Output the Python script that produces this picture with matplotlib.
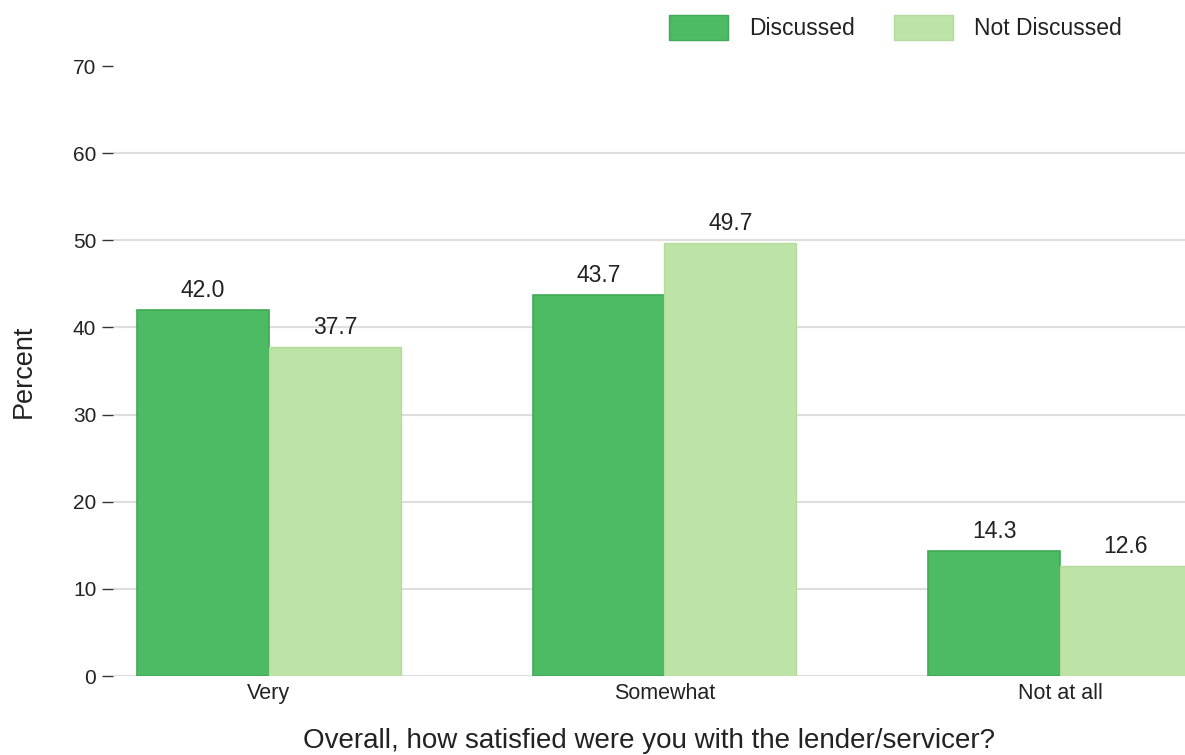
import matplotlib
matplotlib.use("Agg")
import matplotlib.pyplot as plt
from matplotlib.patches import Patch
import numpy as np

plt.rcParams['font.family'] = ['Liberation Sans', 'DejaVu Sans']

categories = ["Very", "Somewhat", "Not at all"]
discussed = [42.0, 43.7, 14.3]
not_discussed = [37.7, 49.7, 12.6]
series_names = ["Discussed", "Not Discussed"]
y_ticks = [0, 10, 20, 30, 40, 50, 60, 70]

dark = "#4dba64"
dark_edge = "#3fa956"
light = "#bde3a6"
light_edge = "#b3dc9c"
text_color = "#222222"

W, H = 1185, 755
fig = plt.figure(figsize=(W / 100, H / 100), dpi=100)
ax = fig.add_axes([113 / W, 1 - 676 / H, 1 - 113 / W, (676 - 66) / H])

x = np.arange(len(categories))
bw = 1 / 3
b1 = ax.bar(x - bw / 2, discussed, bw, color=dark, edgecolor=dark_edge, linewidth=1.2, zorder=2)
b2 = ax.bar(x + bw / 2, not_discussed, bw, color=light, edgecolor=light_edge, linewidth=1.0, zorder=2)

for bars, vals in ((b1, discussed), (b2, not_discussed)):
    for rect, v in zip(bars, vals):
        ax.annotate(f"{v:.1f}", (rect.get_x() + rect.get_width() / 2, v),
                    xytext=(0, 6), textcoords="offset points",
                    ha="center", va="bottom", fontsize=16.5, color=text_color)

ax.set_ylim(0, 70)
ax.set_xlim(-0.394, 2.316)
ax.set_yticks(y_ticks)
ax.set_xticks(x)
ax.set_xticklabels(categories)
ax.tick_params(axis="y", length=8, width=1, color="#333333", pad=4, labelsize=15, labelcolor=text_color)
ax.tick_params(axis="x", length=0, pad=5, labelsize=15.5, labelcolor=text_color)
for s in ax.spines.values():
    s.set_visible(False)
ax.grid(axis="y", color="#dedede", linewidth=1.5, zorder=0)
ax.set_axisbelow(True)
# no rule along the top tick
ax.get_ygridlines()[-1].set_visible(False)

ax.set_ylabel("Percent", fontsize=19.5, color=text_color, labelpad=26)
ax.set_xlabel("Overall, how satisfied were you with the lender/servicer?", fontsize=20,
              color=text_color, labelpad=17.5)

handles = [Patch(facecolor=dark, edgecolor=dark_edge), Patch(facecolor=light, edgecolor=light_edge)]
fig.legend(handles, series_names, loc="upper left", bbox_to_anchor=(648 / W, 1.0 + 6 / H),
           ncol=2, frameon=False, fontsize=16.5, handlelength=2.6, handleheight=1.3,
           columnspacing=1.7, handletextpad=0.9, labelcolor=text_color)

fig.savefig("out.png", dpi=100)
